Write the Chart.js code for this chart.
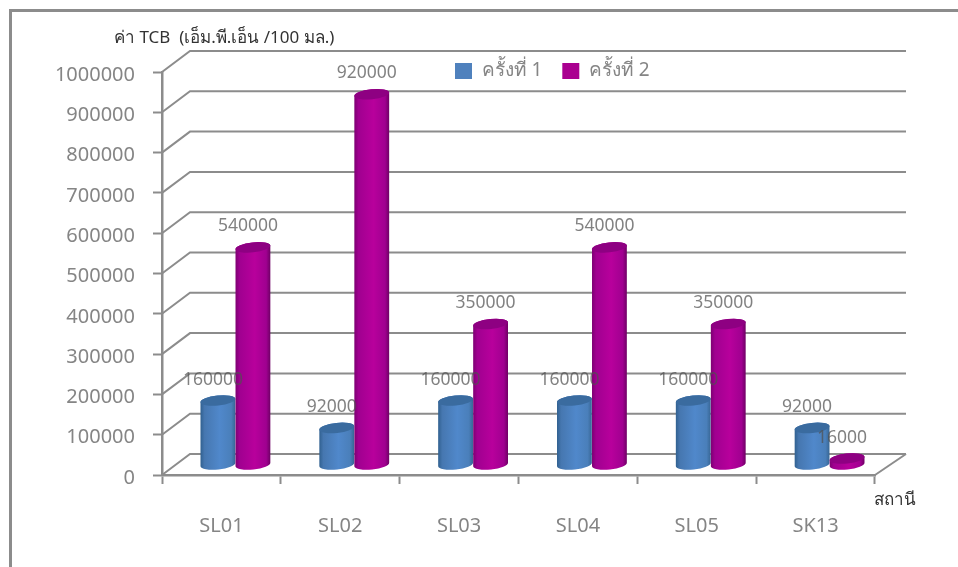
<!DOCTYPE html>
<html>
<head>
<meta charset="utf-8">
<style>
  html, body { margin: 0; padding: 0; background: #fff; }
  #wrap { width: 958px; height: 567px; }
</style>
<script src="https://cdn.jsdelivr.net/npm/chart.js@4"></script>
</head>
<body>
<div id="wrap"><canvas id="tcbChart" width="958" height="567"></canvas></div>
<script>
const estaciones = ['SL01', 'SL02', 'SL03', 'SL04', 'SL05', 'SK13'];
const crang1 = [160000, 92000, 160000, 160000, 160000, 92000];
const crang2 = [540000, 920000, 350000, 540000, 350000, 16000];
const nombres = ['ครั้งที่ 1', 'ครั้งที่ 2'];
const tituloY = 'ค่า TCB  (เอ็ม.พี.เอ็น /100 มล.)';
const tituloX = 'สถานี';

const fuente = '"Noto Sans", "Open Sans", sans-serif';
const gris = '#8c8c8c';
const textoGris = '#858585';

// depth of the floor, and where the columns stand on it
const fondo = { x: 28, xDer: 31, y: -21 };
const medio = { x: 14, y: -10 };
const giro = -6 * Math.PI / 180;

const estilos = [
  { top: '#3a6b9f', stops: ['#30608f', '#4677b0', '#5088cb', '#4a7fba', '#376694'] },
  { top: '#8e0082', stops: ['#7d0072', '#a00090', '#b8009c', '#a00090', '#6e0064'] }
];

function cilindro(ctx, bar, estilo) {
  const rx = bar.width / 2;
  const ry = 5;
  const cx = bar.x + medio.x;
  const yBase = bar.base + medio.y;
  const yTop = bar.y + medio.y;

  const grad = ctx.createLinearGradient(cx - rx, 0, cx + rx, 0);
  [0, 0.12, 0.55, 0.88, 1].forEach((p, i) => grad.addColorStop(p, estilo.stops[i]));

  ctx.beginPath();
  ctx.ellipse(cx, yBase, rx, ry, giro, 0, Math.PI);
  ctx.ellipse(cx, yTop, rx, ry, giro, Math.PI, Math.PI * 2);
  ctx.closePath();
  ctx.fillStyle = grad;
  ctx.fill();

  ctx.beginPath();
  ctx.ellipse(cx, yTop, rx, ry, giro, 0, Math.PI * 2);
  ctx.fillStyle = estilo.top;
  ctx.fill();
}

const escena3d = {
  id: 'escena3d',
  afterLayout(chart) {
    // the legend floats over the back wall
    const legend = chart.legend;
    const padding = chart.options.plugins.legend.labels.padding;
    legend.left = 455 - padding;
    legend.top = 71 - padding - 9.5;
    legend.right = legend.left + 260;
    legend.bottom = legend.top + 70;
  },
  beforeDraw(chart) {
    const { ctx } = chart;
    ctx.save();
    // outer frame, open on the right and at the bottom
    ctx.strokeStyle = gris;
    ctx.lineWidth = 3;
    ctx.beginPath();
    ctx.moveTo(10.5, 567);
    ctx.lineTo(10.5, 10.5);
    ctx.lineTo(958, 10.5);
    ctx.stroke();
    ctx.restore();
  },
  beforeDatasetsDraw(chart) {
    const { ctx, chartArea, scales } = chart;
    ctx.save();
    ctx.strokeStyle = gris;
    ctx.lineWidth = 2;

    // wall lines going back from each tick
    scales.y.ticks.forEach(t => {
      const py = scales.y.getPixelForValue(t.value);
      ctx.beginPath();
      ctx.moveTo(chartArea.left, py);
      ctx.lineTo(chartArea.left + fondo.x, py + fondo.y);
      ctx.lineTo(chartArea.right + fondo.xDer, py + fondo.y);
      ctx.stroke();
    });

    // right edge of the floor
    ctx.beginPath();
    ctx.moveTo(chartArea.right, chartArea.bottom);
    ctx.lineTo(chartArea.right + fondo.xDer, chartArea.bottom + fondo.y);
    ctx.stroke();

    // columns
    chart.data.datasets.forEach((ds, i) => {
      chart.getDatasetMeta(i).data.forEach(bar => cilindro(ctx, bar, estilos[i]));
    });

    // value labels on top of everything
    ctx.font = '17.5px ' + fuente;
    ctx.fillStyle = 'rgba(80,80,80,0.72)';
    ctx.textAlign = 'center';
    ctx.textBaseline = 'middle';
    chart.data.datasets.forEach((ds, i) => {
      chart.getDatasetMeta(i).data.forEach((bar, j) => {
        ctx.fillText(String(ds.data[j]), bar.x + medio.x - 5, bar.y + medio.y - 21);
      });
    });

    // axis captions
    ctx.fillStyle = '#333';
    ctx.font = '17px ' + fuente;
    ctx.textAlign = 'left';
    ctx.fillText(tituloY, 114, 38);
    ctx.fillText(tituloX, 874, 500);
    ctx.restore();

    // the columns are already painted
    return false;
  }
};

new Chart(document.getElementById('tcbChart'), {
  type: 'bar',
  plugins: [escena3d],
  data: {
    labels: estaciones,
    datasets: [
      { label: nombres[0], data: crang1, backgroundColor: '#4f81bd', borderWidth: 0 },
      { label: nombres[1], data: crang2, backgroundColor: '#aa0090', borderWidth: 0 }
    ]
  },
  options: {
    responsive: false,
    animation: false,
    layout: { padding: { left: 0, right: 83, top: 23, bottom: 0 } },
    categoryPercentage: 70 / 118.8,
    barPercentage: 1,
    plugins: {
      tooltip: { enabled: false },
      legend: {
        position: 'top',
        align: 'start',
        labels: {
          boxWidth: 17,
          boxHeight: 16,
          padding: 20,
          color: textoGris,
          font: { family: fuente, size: 19 }
        }
      }
    },
    scales: {
      x: {
        afterFit(scale) { scale.height = 92; },
        border: { color: gris, width: 2.5 },
        grid: { drawOnChartArea: false, color: gris, tickLength: 9, tickWidth: 2 },
        ticks: { color: textoGris, padding: 30, maxRotation: 0, font: { family: fuente, size: 20 } }
      },
      y: {
        min: 0,
        max: 1000000,
        afterFit(scale) { scale.width = 162; },
        border: { color: gris, width: 2.5 },
        grid: { drawOnChartArea: false, color: gris, tickLength: 9, tickWidth: 2 },
        ticks: {
          stepSize: 100000,
          color: textoGris,
          padding: 18,
          labelOffset: 3,
          font: { family: fuente, size: 20 },
          callback: v => String(v)
        }
      }
    }
  }
});
</script>
</body>
</html>
